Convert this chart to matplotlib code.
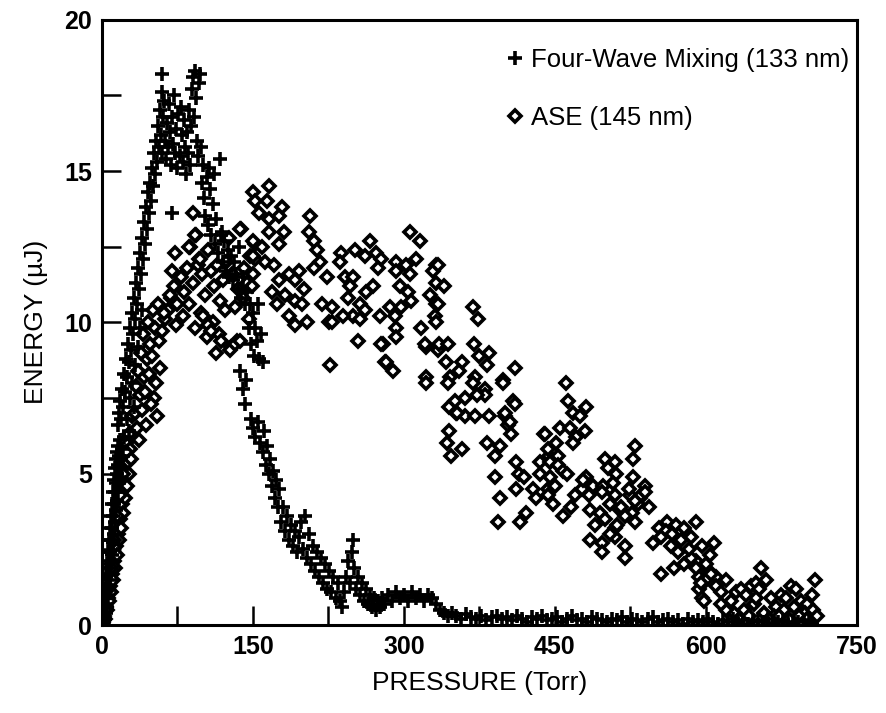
import matplotlib
matplotlib.use("Agg")
import matplotlib.pyplot as plt
import numpy as np

# ---------------- Four-Wave Mixing (133 nm) ----------------
fwm_a_x = [1,1,2,2,2,3,3,3,4,4,
           4,5,5,5,6,6,6,7,7,7,
           8,8,8,9,9,9,10,10,10,11,
           11,11,12,12,12,13,13,13,14,14,
           14,15,15,15,16,16,16,17,17,18,
           18,19,19,20,20,21]
fwm_a_y = [0.0,0.3,0.1,0.6,0.9,0.2,0.7,1.2,0.4,1.0,
           1.6,0.6,1.3,2.0,0.9,1.7,2.4,1.2,2.1,2.8,
           1.5,2.4,3.2,1.9,2.8,3.6,2.3,3.2,4.0,2.7,
           3.6,4.4,3.0,4.0,4.8,3.4,4.4,5.2,3.8,4.7,
           5.5,4.1,5.0,5.7,4.4,5.3,5.9,4.7,5.6,5.2,
           6.1,5.5,4.9,5.8,5.2,5.6]

fwm_b_x = [16,17,18,19,20,21,22,23,24,25,
           26,27,28,29,30,31,32,33,34,35,
           36,37,38,39,40,41,42,43,44,45,
           46,47,48,49,50,51,52,53,54,55,
           56,57,58,59,60,60,61,62,
           22,25,28,30,33,36,38,40,27,32]
fwm_b_y = [6.6,7.0,7.4,6.8,7.8,7.2,8.3,7.7,8.8,8.2,
           9.3,8.7,9.8,9.1,10.3,9.6,10.8,10.1,11.3,10.6,
           11.8,11.1,12.3,11.6,12.8,12.1,13.3,12.6,13.8,13.1,
           14.3,13.6,14.6,14.0,15.1,14.5,15.6,14.9,16.0,15.3,
           16.5,15.8,17.0,16.2,17.6,18.2,16.8,17.3,
           6.2,6.8,7.5,8.0,8.6,9.2,9.8,10.4,6.4,7.2]

fwm_c_x = [63,64,65,66,67,68,69,70,71,72,
           73,74,75,76,77,78,79,80,81,82,
           83,84,85,86,87,88,89,90,91,92,
           93,94,95,96,97,98,99,100,60,70]
fwm_c_y = [16.0,15.4,16.6,15.8,17.2,16.3,15.2,16.8,15.9,17.5,
           15.6,16.4,15.1,16.9,15.5,17.1,16.2,15.3,16.7,15.8,
           14.9,16.3,15.6,17.0,15.2,16.5,17.7,18.1,16.8,18.3,
           17.4,16.0,15.5,17.9,18.2,15.8,14.6,15.2,15.6,13.6]

fwm_d_x = [101,102,104,105,107,108,110,112,113,115,
           117,118,120,121,123,125,126,128,130,131,
           133,135,136,138,140,142,144,146,147,148,
           150,151,152,154,155,156,158,160,137,140,
           142,143,106,111,119]
fwm_d_y = [14.1,13.5,14.8,13.2,14.4,12.9,13.9,12.6,13.4,12.3,
           15.4,12.9,12.0,12.7,11.7,12.4,11.5,12.2,11.4,12.0,
           11.6,11.1,12.5,10.8,11.5,10.6,11.0,9.8,10.6,9.3,
           10.3,8.9,9.8,9.4,10.6,8.8,9.6,8.7,8.4,7.8,
           7.3,8.1,15.1,14.9,13.0]

fwm_e_x = [148,150,152,155,157,160,161,163,164,166,
           167,169,170,172,173,175,176,178,180,182,
           184,186,188,190,192,194,196,198,200,202,
           204,206,208,210,212,214]
fwm_e_y = [6.8,6.5,6.2,6.7,6.0,5.7,6.4,5.3,5.9,5.0,
           5.5,4.6,5.1,4.2,4.8,3.9,4.5,3.4,3.9,3.1,
           3.6,2.8,3.3,2.6,3.1,2.4,2.9,3.4,2.5,3.6,
           2.2,3.0,2.0,2.6,1.8,2.4]

fwm_f_x = [216,218,220,222,224,226,228,230,232,234,
           236,238,240,242,244,246,248,249,250,252,
           254,256,258,260,262,264,266,268,270,272,
           274,276,278,280,284,288,292,296,300,304,
           308,312,316,320,324,328,332,336,340,344,
           348]
fwm_f_y = [1.6,2.2,1.4,2.0,1.2,1.8,1.1,1.6,0.9,1.4,
           0.8,0.6,1.1,1.6,2.1,1.4,2.4,2.8,1.9,1.2,
           1.6,1.0,1.4,0.8,1.2,0.7,1.0,0.6,0.9,0.5,
           0.8,0.6,0.9,0.7,1.0,0.8,1.1,0.9,1.0,0.8,
           1.1,0.9,1.0,0.8,1.0,0.9,0.7,0.5,0.4,0.3,
           0.4]

fwm_g_x = [352,357,362,367,372,377,382,387,392,397,
           402,407,412,417,422,427,432,437,442,447,
           452,457,462,467,472,477,482,487,492,497,
           502,507,512,517,522,527,532,537,542,547,
           552,557,562,567,572,577,582,587,592,597,
           602,607,612,617,622,627,632,637,642,647,
           652,657,662,667,672,677,682,687,692,697,
           702,705]
fwm_g_y = [0.3,0.2,0.35,0.25,0.2,0.3,0.15,0.25,0.3,0.2,
           0.25,0.15,0.3,0.2,0.1,0.25,0.2,0.3,0.15,0.2,
           0.25,0.1,0.2,0.3,0.15,0.2,0.1,0.25,0.2,0.15,
           0.1,0.2,0.15,0.25,0.1,0.2,0.15,0.1,0.2,0.25,
           0.1,0.15,0.2,0.1,0.15,0.05,0.2,0.1,0.15,0.1,
           0.2,0.1,0.05,0.15,0.1,0.2,0.1,0.15,0.05,0.1,
           0.15,0.1,0.2,0.05,0.1,0.15,0.1,0.05,0.1,0.15,
           0.1,0.05]

# ---------------- ASE (145 nm) ----------------
ase_a_x = [1,2,3,4,5,6,7,8,9,10,
           11,12,13,14,15,16,17,18,19,20,
           21,22,23,24,25,26,27,28,29,30,
           3,6,9,12,15,18,21,24,27,30]
ase_a_y = [0.1,0.3,0.2,0.6,0.5,0.9,0.8,1.3,1.1,1.7,
           1.5,2.1,1.9,2.6,2.3,3.0,2.8,3.5,3.2,4.0,
           3.7,4.5,4.2,5.0,4.6,5.4,5.0,5.8,5.5,6.2,
           0.5,1.2,1.9,2.8,3.6,4.3,5.0,5.7,6.3,6.9]

ase_b_x = [33,35,37,38,40,42,43,45,47,48,
           50,52,53,55,57,58,36,41,46,51,
           56,44,49,54,39,34]
ase_b_y = [7.0,6.5,6.1,7.6,7.1,8.2,7.7,8.8,8.3,9.3,
           8.9,7.5,9.8,6.9,9.4,8.5,8.4,9.6,10.0,10.4,
           10.6,6.6,7.3,8.0,9.0,7.9]

ase_c_x = [60,63,66,69,72,75,78,81,84,87,
           90,93,96,99,102,105,108,111,114,117,
           120,123,126,129,132,135,138,141,144,147,
           62,68,74,80,86,92,98,104,110,116,
           122,128,134,140,146,70,73,86,90,92,
           95,97,105,113,127,132,137,100,108,118]
ase_c_y = [9.7,10.1,10.4,10.8,11.2,10.6,11.5,11.0,11.8,12.5,
           11.3,12.9,12.1,11.6,10.9,12.4,11.7,11.2,11.9,10.7,
           11.4,12.0,12.8,11.6,10.5,11.1,13.1,11.8,11.3,12.2,
           10.3,10.9,9.9,10.2,10.6,9.8,10.3,9.5,10.0,9.6,
           10.4,9.2,9.4,10.8,10.1,11.7,12.3,12.5,13.6,12.9,
           11.9,12.1,9.9,9.0,9.1,9.3,9.4,10.2,9.7,9.4]

ase_d_x = [150,152,166,164,179,156,166,176,166,181,
           176,152,159,152,162,171,207,206,211,214,
           217,211,196,186,176,192,169,182,201,192,
           174,199,186,192,204,150,150,137,149,150]
ase_d_y = [14.3,14.0,14.5,14.0,13.8,13.6,13.4,13.5,13.0,13.0,
           12.6,12.6,12.5,12.1,12.0,11.9,13.5,13.0,12.7,12.4,
           12.0,11.8,11.7,11.6,11.4,11.4,11.0,10.9,11.1,10.7,
           10.6,10.6,10.2,9.9,10.0,12.7,12.2,13.1,11.2,11.6]

ase_e_x = [224,219,229,226,237,251,266,261,272,277,
           236,274,241,249,246,244,262,269,256,261,
           249,239,229,256,254,227,279,292,292,302,
           312,306,316,306,296,304,307,286,297,276,
           291,292,292,277,281,332,329,332,326,332,
           331,332,317,322,334,289,282,321,322,335,
           342,346,358,355,370,375,385,383,371,340,
           334,334,344,369,374,398,410,381]
ase_e_y = [11.5,10.6,10.5,10.0,12.3,12.4,12.7,12.2,12.3,12.1,
           12.0,11.8,11.5,11.5,11.2,10.8,11.0,11.2,10.6,10.4,
           10.2,10.2,10.0,10.1,9.4,8.6,9.3,12.0,11.7,11.9,
           12.1,13.0,12.7,11.6,11.2,11.0,10.7,10.5,10.5,10.2,
           10.2,9.8,9.5,9.3,8.7,11.9,11.7,11.3,10.9,10.6,
           10.2,10.0,9.8,9.2,9.1,8.4,8.7,9.3,8.2,9.3,
           8.7,8.2,8.7,8.4,9.3,8.9,9.0,8.6,8.2,11.2,
           11.9,10.6,9.3,10.5,10.1,8.1,8.5,7.8]

ase_f_x = [322,344,369,398,381,408,345,352,361,371,
           385,400,403,406,345,343,347,358,383,395,
           390,390,395,393,415,421,439,435,444,411,
           414,419,411,428,431,443,435,351,353,361,
           373,410,400,461,463,481,468,475,455,465,
           480,471,440,451,468,405]
ase_f_y = [8.0,8.0,8.0,8.0,7.6,7.4,7.2,7.0,6.9,6.9,
           6.9,6.9,6.6,6.3,6.4,6.0,5.6,5.8,6.0,5.9,
           5.6,4.9,4.2,3.4,3.4,3.7,6.3,5.4,5.6,5.4,
           5.0,4.9,4.5,4.5,4.2,4.5,5.0,7.4,7.0,7.5,
           7.6,7.3,7.0,8.0,7.4,7.2,7.0,6.9,6.5,6.5,
           6.4,6.2,6.3,6.0,6.0,6.7]

ase_g_x = [443,453,445,453,458,445,450,443,448,470,
           530,528,500,510,503,511,528,540,525,535,
           543,533,481,488,498,508,484,497,510,485,
           495,505,515,527,490,500,510,520,530,485,
           497,510,520,497,520,524,536,530,540,516,
           505,512,462,477,458,466,478]
ase_g_y = [5.8,5.6,5.4,5.3,5.1,4.9,4.6,4.3,4.0,4.3,
           5.9,5.5,5.5,5.4,5.2,5.0,4.9,4.6,4.3,4.2,
           3.9,4.0,4.9,4.6,4.6,4.7,4.3,4.4,4.3,3.8,
           3.7,4.0,3.8,3.7,3.3,3.5,3.2,3.6,3.4,2.8,
           2.7,2.9,2.6,2.4,2.2,4.5,4.3,4.1,4.4,3.9,
           3.0,3.3,5.0,4.5,3.6,3.9,4.8]

ase_h_x = [561,553,560,570,578,590,547,555,565,575,
           585,596,608,555,568,578,590,603,593,600,
           610,593,596,598,604,585,590,600,605,595,
           610,615,620,572,583,566]
ase_h_y = [3.4,3.2,3.1,3.3,3.2,3.4,2.7,2.9,2.6,2.8,
           2.9,2.6,2.7,1.7,1.9,2.0,2.1,1.8,1.6,1.5,
           1.6,1.2,0.9,0.8,2.3,2.2,1.9,2.0,1.7,1.4,
           1.3,1.1,1.5,2.4,2.5,3.0]

ase_i_x = [625,630,635,640,645,650,653,655,660,665,
           670,675,680,685,690,695,700,705,708,628,
           638,648,658,668,678,688,698,703,633,643,
           663,673,683,693,700,706,620,615,650,710]
ase_i_y = [0.8,1.1,1.2,1.0,1.3,1.4,1.2,1.9,1.5,0.9,
           0.6,1.0,0.9,1.3,1.2,0.8,0.7,1.0,1.5,0.4,
           0.5,0.7,0.4,0.3,0.5,0.6,0.4,0.3,0.2,0.3,
           0.2,0.3,0.2,0.3,0.2,0.5,0.5,0.7,0.9,0.3]

x_major = [0, 150, 300, 450, 600, 750]
x_minor = [75, 225, 375, 525, 675]
y_major = [0, 5, 10, 15, 20]
y_minor = [2.5, 7.5, 12.5, 17.5]

fwm_x = fwm_a_x + fwm_b_x + fwm_c_x + fwm_d_x + fwm_e_x + fwm_f_x + fwm_g_x
fwm_y = fwm_a_y + fwm_b_y + fwm_c_y + fwm_d_y + fwm_e_y + fwm_f_y + fwm_g_y
ase_x = ase_a_x + ase_b_x + ase_c_x + ase_d_x + ase_e_x + ase_f_x + ase_g_x + ase_h_x + ase_i_x
ase_y = ase_a_y + ase_b_y + ase_c_y + ase_d_y + ase_e_y + ase_f_y + ase_g_y + ase_h_y + ase_i_y

plt.rcParams['font.family'] = ['Liberation Sans', 'DejaVu Sans']
tick_family = ['Liberation Sans Narrow', 'Liberation Sans', 'DejaVu Sans']

fig = plt.figure(figsize=(8.87, 7.13), dpi=100)
ax = fig.add_axes([0.115, 0.1234, 0.851, 0.849])

ax.plot(ase_x, ase_y, linestyle='none', marker='D', markersize=6.6,
        markerfacecolor='white', markeredgecolor='black', markeredgewidth=2.6,
        label='ASE (145 nm)', zorder=2)
ax.plot(fwm_x, fwm_y, linestyle='none', marker='+', markersize=10.5,
        color='black', markeredgewidth=2.6, label='Four-Wave Mixing (133 nm)', zorder=3)

ax.set_xlim(0, 750)
ax.set_ylim(0, 20)
ax.set_xticks(x_major)
ax.set_xticks(x_minor, minor=True)
ax.set_yticks(y_major)
ax.set_yticks(y_minor, minor=True)
ax.tick_params(axis='both', which='both', direction='in', length=14, width=1.8,
               top=False, right=False)
ax.tick_params(axis='both', which='major', pad=7)
for lab in ax.get_xticklabels() + ax.get_yticklabels():
    lab.set_fontweight('bold')
    lab.set_fontsize(18)
    lab.set_family(tick_family)
for sp in ax.spines.values():
    sp.set_linewidth(2.2)

ax.set_xlabel('PRESSURE (Torr)', fontsize=19, labelpad=9)
ax.set_ylabel('ENERGY (\u00b5J)', fontsize=19, labelpad=12)

handles, labels = ax.get_legend_handles_labels()
leg = ax.legend(handles[::-1], labels[::-1], loc='upper left',
                bbox_to_anchor=(0.518, 0.974), frameon=False, fontsize=18.5,
                handlelength=0.7, handletextpad=0.28, labelspacing=1.3,
                borderpad=0, markerscale=0.9)

fig.savefig('out.png', dpi=100)
